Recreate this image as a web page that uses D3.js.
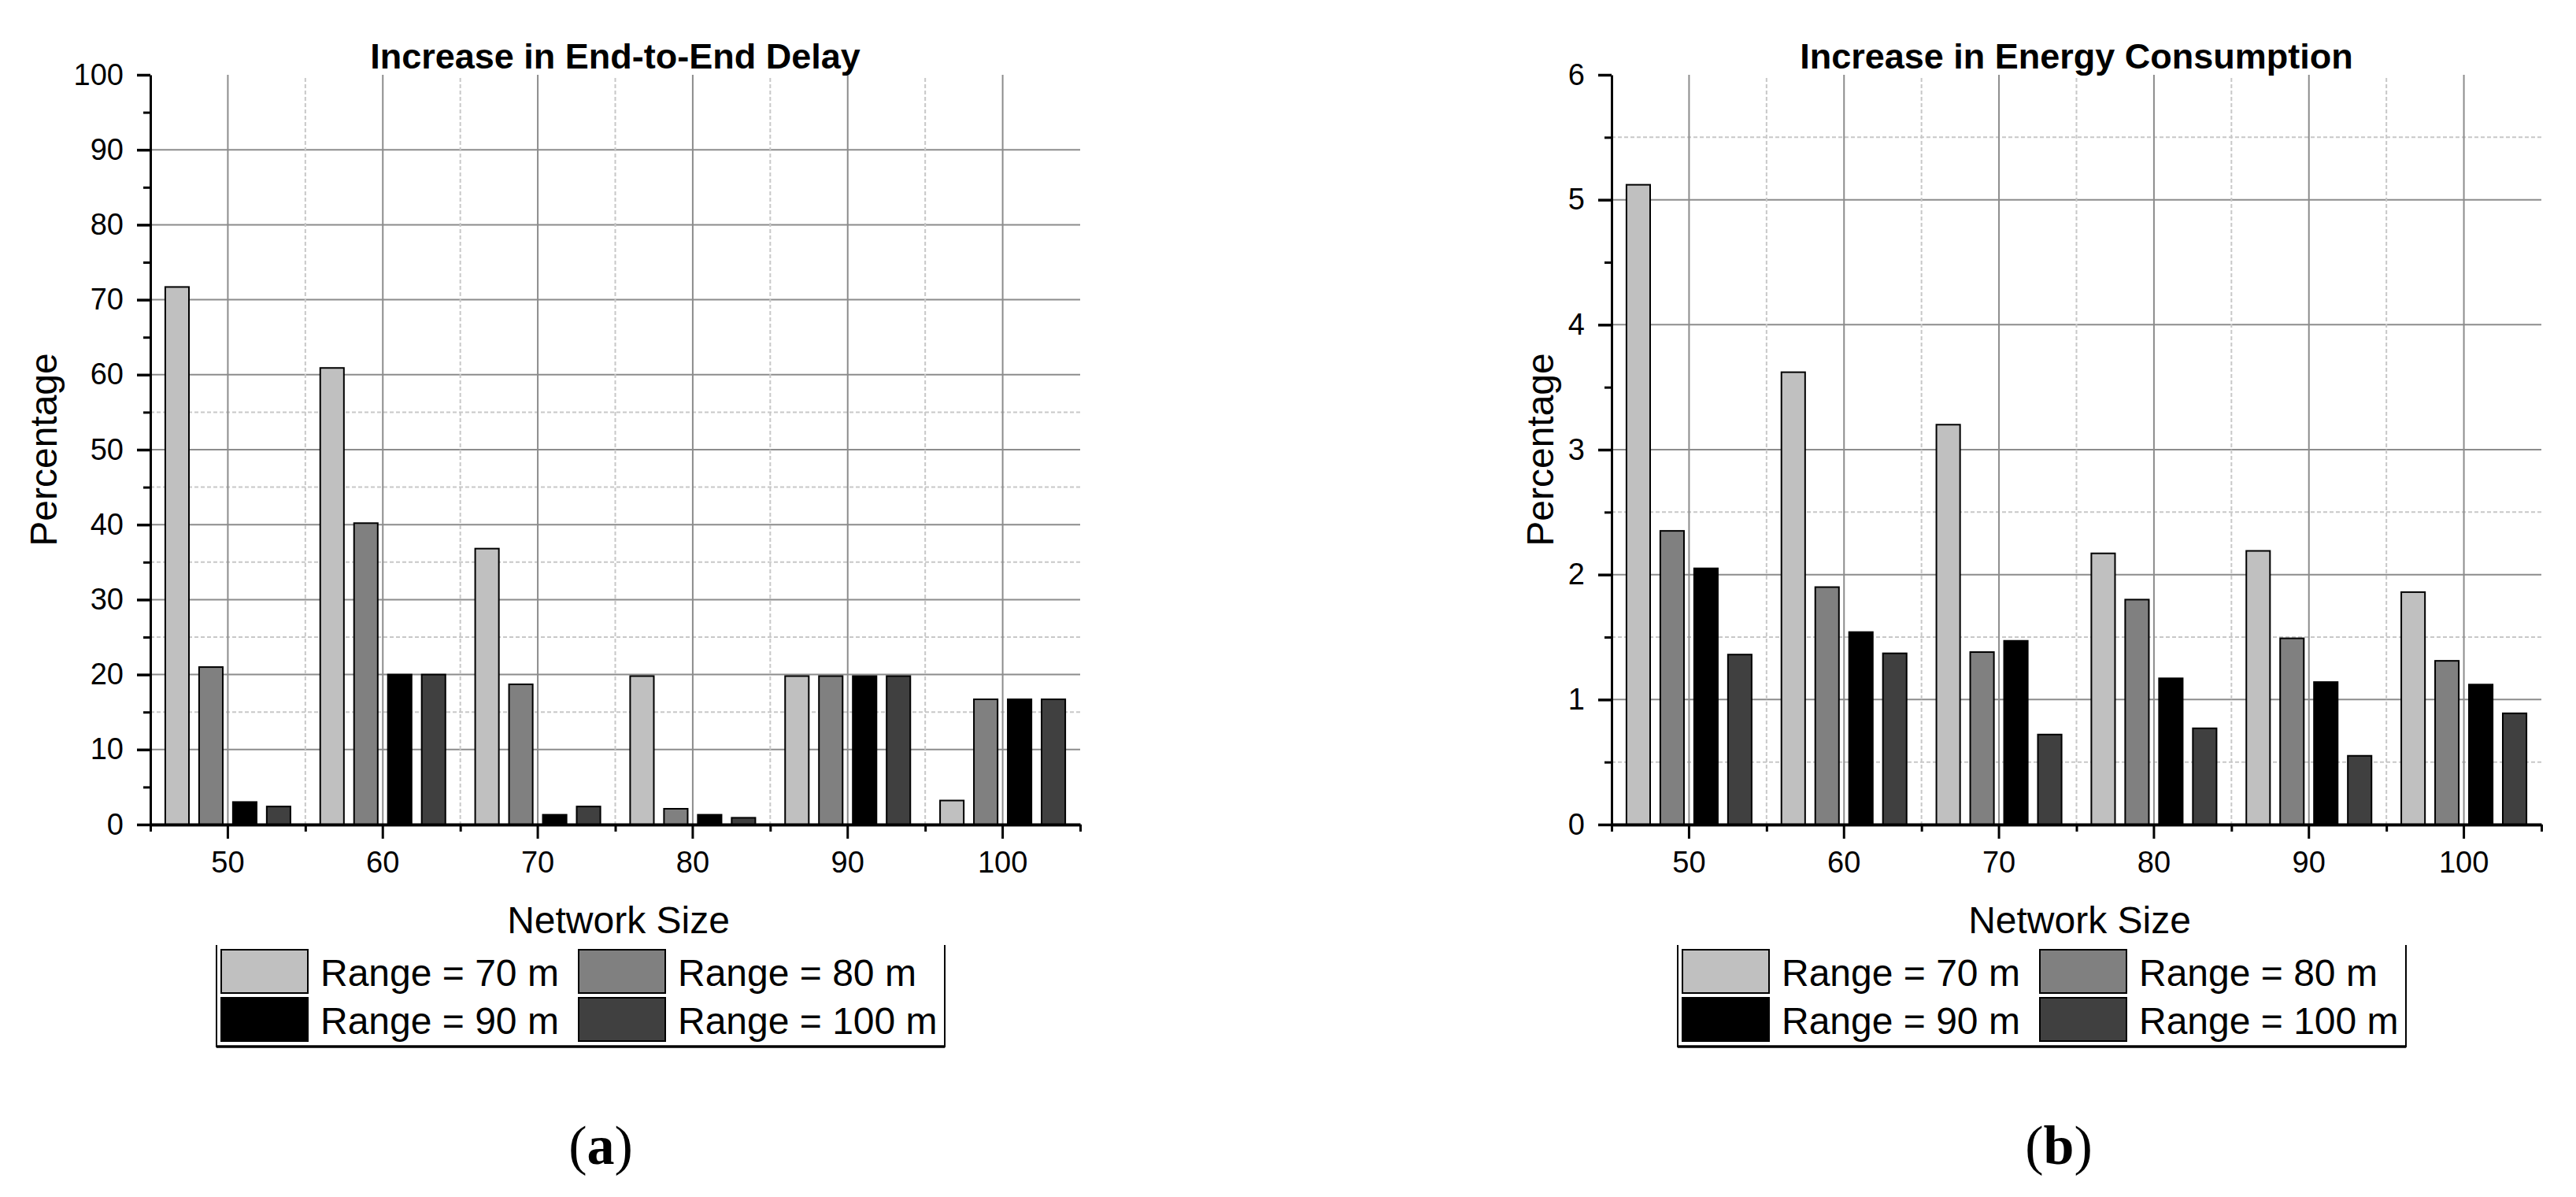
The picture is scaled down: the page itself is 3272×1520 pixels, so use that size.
<!DOCTYPE html>
<html>
<head>
<meta charset="utf-8">
<script src="https://cdn.jsdelivr.net/npm/d3@7"></script>
<style>
  body { margin: 0; background: #fff; }
  svg { display: block; }
  .tick text { font-family: "Liberation Sans", Arial, sans-serif; }
</style>
</head>
<body>
<div id="chart"></div>
<script>
// categories and series
const networkSizes = ["50", "60", "70", "80", "90", "100"];
const rangeNames = ["Range = 70 m", "Range = 80 m", "Range = 90 m", "Range = 100 m"];
const rangeColors = ["#c0c0c0", "#808080", "#000000", "#404040"];

// (a) end-to-end delay, percent
const delay70 = [71.7, 60.9, 36.8, 19.8, 19.8, 3.2];
const delay80 = [21.0, 40.2, 18.7, 2.1, 19.8, 16.7];
const delay90 = [3.0, 20.0, 1.3, 1.3, 19.8, 16.7];
const delay100 = [2.4, 20.0, 2.4, 0.9, 19.8, 16.7];

// (b) energy consumption, percent
const energy70 = [5.12, 3.62, 3.20, 2.17, 2.19, 1.86];
const energy80 = [2.35, 1.90, 1.38, 1.80, 1.49, 1.31];
const energy90 = [2.05, 1.54, 1.47, 1.17, 1.14, 1.12];
const energy100 = [1.36, 1.37, 0.72, 0.77, 0.55, 0.89];

// tick labels
const delayTicks = [0, 10, 20, 30, 40, 50, 60, 70, 80, 90, 100];
const delayMinor = [5, 15, 25, 35, 45, 55, 65, 75, 85, 95];
const delayMinorGrid = [15, 25, 35, 45, 55];
const energyTicks = [0, 1, 2, 3, 4, 5, 6];
const energyMinor = [0.5, 1.5, 2.5, 3.5, 4.5, 5.5];
const energyMinorGrid = [0.5, 1.5, 2.5, 5.5];

const width = 3272, height = 1520;
const plotW = 1181, plotTop = 95, plotBottom = 1047;
const sans = '"Liberation Sans", Arial, sans-serif';

const svg = d3.select("#chart").append("svg")
    .attr("width", width)
    .attr("height", height)
    .attr("viewBox", `0 0 ${width} ${height}`);

const panels = [
    {
        left: 191, title: "Increase in End-to-End Delay",
        series: [delay70, delay80, delay90, delay100],
        ticks: delayTicks, minor: delayMinor, minorGrid: delayMinorGrid,
        labelX: 72, caption: "a", captionX: 763
    },
    {
        left: 2047, title: "Increase in Energy Consumption",
        series: [energy70, energy80, energy90, energy100],
        ticks: energyTicks, minor: energyMinor, minorGrid: energyMinorGrid,
        labelX: 1973, caption: "b", captionX: 2615
    }
];

panels.forEach(drawPanel);

function drawPanel(p) {
    const yMax = p.ticks[p.ticks.length - 1];
    const y = d3.scaleLinear().domain([0, yMax]).range([plotBottom, plotTop]);
    const x0 = d3.scaleBand().domain(networkSizes).range([p.left, p.left + plotW]).padding(0);
    const x1 = d3.scaleBand().domain(d3.range(rangeNames.length))
        .range([0, x0.bandwidth()]).paddingInner(0.3).paddingOuter(0.44);
    const xb = d3.scaleLinear().domain([0, networkSizes.length]).range([p.left, p.left + plotW]);

    const g = svg.append("g");

    // grid
    const grid = g.append("g");
    grid.selectAll(".hmaj")
        .data(p.ticks.filter(v => v > 0 && v < yMax))
        .enter().append("line")
        .attr("x1", p.left).attr("x2", p.left + plotW)
        .attr("y1", d => y(d)).attr("y2", d => y(d))
        .attr("stroke", "#8c8c8c").attr("stroke-width", 2);
    grid.selectAll(".hmin")
        .data(p.minorGrid)
        .enter().append("line")
        .attr("x1", p.left).attr("x2", p.left + plotW)
        .attr("y1", d => y(d)).attr("y2", d => y(d))
        .attr("stroke", "#c8c8c8").attr("stroke-width", 2)
        .attr("stroke-dasharray", "5,3");
    grid.selectAll(".vmaj")
        .data(networkSizes)
        .enter().append("line")
        .attr("x1", d => x0(d) + x0.bandwidth() / 2).attr("x2", d => x0(d) + x0.bandwidth() / 2)
        .attr("y1", plotTop).attr("y2", plotBottom)
        .attr("stroke", "#8c8c8c").attr("stroke-width", 2);
    grid.selectAll(".vmin")
        .data(d3.range(1, networkSizes.length))
        .enter().append("line")
        .attr("x1", d => xb(d)).attr("x2", d => xb(d))
        .attr("y1", plotTop + 4).attr("y2", plotBottom)
        .attr("stroke", "#c8c8c8").attr("stroke-width", 2)
        .attr("stroke-dasharray", "5,3");

    // bars
    const groups = g.append("g").selectAll("g")
        .data(networkSizes)
        .enter().append("g")
        .attr("transform", d => `translate(${x0(d)},0)`);
    groups.selectAll("rect")
        .data((d, i) => p.series.map((s, k) => ({ k: k, v: s[i] })))
        .enter().append("rect")
        .attr("x", d => x1(d.k))
        .attr("width", x1.bandwidth())
        .attr("y", d => y(d.v))
        .attr("height", d => y(0) - y(d.v))
        .attr("fill", d => rangeColors[d.k])
        .attr("stroke", "#000")
        .attr("stroke-width", 2);

    // y axis
    const yAxis = g.append("g")
        .attr("transform", `translate(${p.left},0)`)
        .call(d3.axisLeft(y).tickValues(p.ticks).tickFormat(d3.format("d"))
            .tickSize(17).tickSizeOuter(0).tickPadding(17));
    yAxis.select(".domain").attr("stroke-width", 3);
    yAxis.selectAll(".tick line").attr("stroke-width", 3.5);
    yAxis.selectAll(".tick text").attr("font-size", 38).attr("fill", "#000");

    const yMinor = g.append("g")
        .attr("transform", `translate(${p.left},0)`)
        .call(d3.axisLeft(y).tickValues(p.minor).tickSize(9).tickFormat(""));
    yMinor.select(".domain").remove();
    yMinor.selectAll(".tick line").attr("stroke-width", 3);

    // x axis
    const xAxis = g.append("g")
        .attr("transform", `translate(0,${plotBottom})`)
        .call(d3.axisBottom(x0).tickSize(18).tickSizeOuter(0).tickPadding(16));
    xAxis.select(".domain").attr("stroke-width", 4);
    xAxis.selectAll(".tick line").attr("stroke-width", 3);
    xAxis.selectAll(".tick text").attr("font-size", 38).attr("fill", "#000");

    const xMinor = g.append("g")
        .attr("transform", `translate(0,${plotBottom})`)
        .call(d3.axisBottom(xb).tickValues(d3.range(networkSizes.length + 1)).tickSize(9).tickFormat(""));
    xMinor.select(".domain").remove();
    xMinor.selectAll(".tick line").attr("stroke-width", 3);

    // titles
    const cx = p.left + plotW / 2;
    g.append("text")
        .attr("x", cx).attr("y", 87)
        .attr("text-anchor", "middle")
        .attr("font-family", sans).attr("font-weight", "bold").attr("font-size", 45)
        .text(p.title);

    g.append("text")
        .attr("transform", `translate(${p.labelX},${(plotTop + plotBottom) / 2}) rotate(-90)`)
        .attr("text-anchor", "middle")
        .attr("font-family", sans).attr("font-size", 48)
        .text("Percentage");

    g.append("text")
        .attr("x", cx + 4).attr("y", 1185)
        .attr("text-anchor", "middle")
        .attr("font-family", sans).attr("font-size", 48)
        .text("Network Size");

    // legend
    const lx = p.left + 84, ly = 1200, lw = 925, lh = 129;
    const leg = g.append("g");
    leg.append("path")
        .attr("d", `M${lx},${ly}V${ly + lh}H${lx + lw}V${ly}`)
        .attr("fill", "none").attr("stroke", "#000").attr("stroke-width", 2);
    leg.append("line")
        .attr("x1", lx).attr("x2", lx + lw)
        .attr("y1", ly + lh).attr("y2", ly + lh)
        .attr("stroke", "#000").attr("stroke-width", 3.5);

    const items = leg.selectAll(".item")
        .data(rangeNames)
        .enter().append("g")
        .attr("transform", (d, i) => `translate(${lx + 6 + (i % 2) * 454},${ly + 6 + Math.floor(i / 2) * 61})`);
    items.append("rect")
        .attr("width", 110).attr("height", 55)
        .attr("fill", (d, i) => rangeColors[i])
        .attr("stroke", "#000").attr("stroke-width", 2);
    items.append("text")
        .attr("x", 126).attr("y", 46)
        .attr("font-family", sans).attr("font-size", 48)
        .text(d => d);

    // caption
    const cap = g.append("text")
        .attr("x", p.captionX).attr("y", 1478)
        .attr("text-anchor", "middle")
        .attr("font-family", '"Liberation Serif", "Times New Roman", serif')
        .attr("font-size", 70);
    cap.append("tspan").text("(");
    cap.append("tspan").attr("font-weight", "bold").text(p.caption);
    cap.append("tspan").text(")");
}
</script>
</body>
</html>
